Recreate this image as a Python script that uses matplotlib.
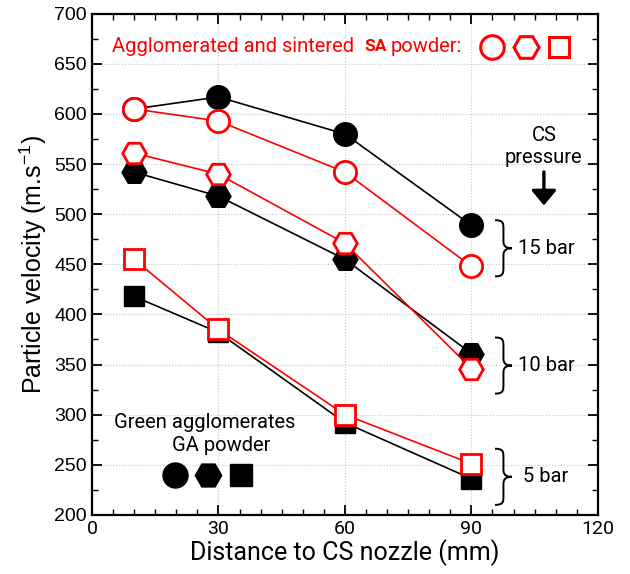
import matplotlib.pyplot as plt
from matplotlib.ticker import MultipleLocator
from matplotlib.path import Path
import matplotlib.patches as patches

plt.rcParams['font.family'] = ['Roboto', 'DejaVu Sans']
plt.rcParams['mathtext.default'] = 'regular'

# dane
distance = [10, 30, 60, 90]
ga_15bar = [605, 617, 580, 489]
ga_10bar = [542, 518, 455, 361]
ga_5bar = [418, 382, 292, 236]
sa_15bar = [605, 593, 542, 448]
sa_10bar = [561, 540, 471, 346]
sa_5bar = [455, 385, 300, 251]

pressure_labels = ['15 bar', '10 bar', '5 bar']
brace_mid = [466, 349, 238]


def draw_brace(ax, x0, ymid, w, h):
    """Klamra '}' rysowana krzywymi Beziera we wspolrzednych danych"""
    xm = x0 + w * 0.5
    verts = [
        (x0, ymid + h),
        (xm, ymid + h), (xm, ymid + h - 3), (xm, ymid + h - 9),
        (xm, ymid + 7),
        (xm, ymid + 1), (x0 + w * 0.75, ymid), (x0 + w, ymid),
        (x0 + w * 0.75, ymid), (xm, ymid - 1), (xm, ymid - 7),
        (xm, ymid - h + 9),
        (xm, ymid - h + 3), (xm, ymid - h), (x0, ymid - h),
    ]
    codes = [Path.MOVETO,
             Path.CURVE4, Path.CURVE4, Path.CURVE4,
             Path.LINETO,
             Path.CURVE4, Path.CURVE4, Path.CURVE4,
             Path.CURVE4, Path.CURVE4, Path.CURVE4,
             Path.LINETO,
             Path.CURVE4, Path.CURVE4, Path.CURVE4]
    ax.add_patch(patches.PathPatch(Path(verts, codes), fc='none', ec='black',
                                   lw=1.4, zorder=5))


fig = plt.figure(figsize=(6.3, 5.74), dpi=100)
ax = fig.add_axes([0.146, 0.103, 0.803, 0.873])

markers = ['o', 'H', 's']
msizes = [17, 18, 15]

for vals, mk, ms in zip([ga_15bar, ga_10bar, ga_5bar], markers, msizes):
    ax.plot(distance, vals, color='black', lw=1.2, marker=mk, ms=ms,
            mfc='black', mec='black', zorder=3)
for vals, mk, ms in zip([sa_15bar, sa_10bar, sa_5bar], markers, msizes):
    ax.plot(distance, vals, color='red', lw=1.2, marker=mk, ms=ms - 1,
            mfc='white', mec='red', mew=2, zorder=4)

# opis SA
fs = 14.5
t1 = ax.text(4.8, 667, 'Agglomerated and sintered', color='red', fontsize=fs,
             va='center', ha='left')
t2 = ax.annotate('SA', xy=(1, 0.5), xycoords=t1, xytext=(7, 0),
                 textcoords='offset points', color='red', fontsize=12.5,
                 fontweight='bold', va='center', ha='left')
ax.annotate('powder:', xy=(1, 0.5), xycoords=t2, xytext=(3, 0),
            textcoords='offset points', color='red', fontsize=fs,
            va='center', ha='left')
for xx, mk, ms in zip([95, 103, 110.8], markers, msizes):
    ax.plot(xx, 667, marker=mk, ms=ms, mfc='white', mec='red', mew=2.2,
            ls='none', zorder=5)

# opis GA
ax.text(26.8, 292, 'Green agglomerates', fontsize=fs, ha='center', va='center')
ax.text(30.6, 269, 'GA powder', fontsize=fs, ha='center', va='center')
for xx, mk, ms in zip([19.7, 27.5, 35.3], markers, [18, 19, 16]):
    ax.plot(xx, 240, marker=mk, ms=ms, mfc='black', mec='black',
            ls='none', zorder=5)

# CS pressure
ax.text(107.2, 579, 'CS', fontsize=fs, ha='center', va='center')
ax.text(107.2, 557, 'pressure', fontsize=fs, ha='center', va='center')
ax.annotate('', xy=(107.2, 506), xytext=(107.2, 545),
            arrowprops=dict(arrowstyle='-|>,head_width=0.75,head_length=0.9',
                            color='black', lw=2.4))

for lab, yy in zip(pressure_labels, brace_mid):
    draw_brace(ax, 95.6, yy, 4, 28)
    ax.text(107.7, yy, lab, fontsize=fs, ha='center', va='center')

ax.set_xlim(0, 120)
ax.set_ylim(200, 700)
ax.xaxis.set_major_locator(MultipleLocator(30))
ax.xaxis.set_minor_locator(MultipleLocator(5))
ax.yaxis.set_major_locator(MultipleLocator(50))
ax.yaxis.set_minor_locator(MultipleLocator(25))
ax.tick_params(which='both', direction='in', top=True, right=True)
ax.tick_params(which='major', length=7, width=1.3, labelsize=14)
ax.tick_params(which='minor', length=4, width=1)
for lab in ax.get_yticklabels():
    lab.set_fontfamily(['Liberation Sans', 'DejaVu Sans'])
for sp in ax.spines.values():
    sp.set_linewidth(1.6)
ax.grid(True, which='major', ls=':', color='#c4c4c4', lw=0.8)
ax.set_axisbelow(True)

ax.set_xlabel('Distance to CS nozzle (mm)', fontsize=18, labelpad=1)
ax.set_ylabel('Particle velocity (m.s$^{-1}$)', fontsize=18, labelpad=4,
              family=['Liberation Sans', 'DejaVu Sans'])

plt.savefig('out.png', dpi=100)
